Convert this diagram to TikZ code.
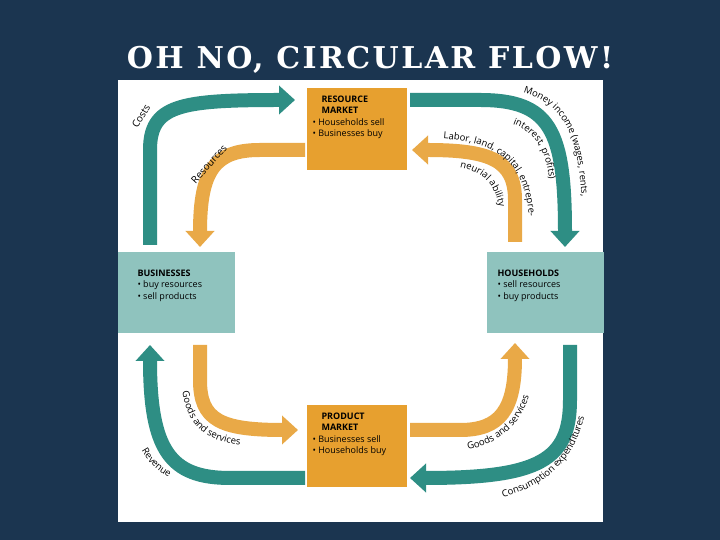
\documentclass[tikz,border=0pt]{standalone}
\usepackage{fontspec}
\setsansfont{Open Sans}
\setmainfont{DejaVu Serif}
\usetikzlibrary{arrows.meta,decorations.text}
\definecolor{bg}{HTML}{1B3550}
\definecolor{teal}{HTML}{2E8E84}
\definecolor{org}{HTML}{E9A947}
\definecolor{boxorg}{HTML}{E7A02F}
\definecolor{boxteal}{HTML}{8FC3BE}
\tikzset{
  band/.style={line width=14pt,-{Triangle[width=28pt,length=16pt]}},
  tband/.style={band,draw=teal},
  oband/.style={band,draw=org},
  mbox/.style={fill=boxorg,minimum width=100pt,minimum height=82pt,anchor=north west,inner sep=0pt},
  abox/.style={fill=boxteal,minimum width=117pt,minimum height=81pt,anchor=north west,inner sep=0pt},
  lbl/.style={font=\sffamily\fontsize{9}{11.5}\selectfont},
  along/.style={decorate,decoration={text along path,text align=center,text={|\sffamily\fontsize{9.5}{10}\selectfont|#1}}}
}
\begin{document}
\begin{tikzpicture}[x=1pt,y=1pt]
\fill[bg] (0,0) rectangle (720,540);
\useasboundingbox (0,0) rectangle (720,540);
\node[text=white,font=\bfseries\fontsize{30}{34}\selectfont\addfontfeature{LetterSpace=8},inner sep=0pt] (title) at (370,480) {OH NO, CIRCULAR FLOW!};
\fill[white] (118,18) rectangle (603,460);
\node[mbox] (rm) at (307,452) {};
\node[abox] (bus) at (118,288) {};
\node[abox] (hh) at (487,288) {};
\node[mbox] (pm) at (307,135) {};
\node[lbl,align=left,anchor=north west] (rmt) at (309,448) {\hspace*{9pt}\textbf{RESOURCE}\\\hspace*{9pt}\textbf{MARKET}\\• Households sell\\• Businesses buy};
\node[lbl,align=left,anchor=north west] (pmt) at (309,131) {\hspace*{9pt}\textbf{PRODUCT}\\\hspace*{9pt}\textbf{MARKET}\\• Businesses sell\\• Households buy};
\node[lbl,align=left,anchor=north west] (bust) at (134,274) {\textbf{BUSINESSES}\\• buy resources\\• sell products};
\node[lbl,align=left,anchor=north west] (hht) at (494,274) {\textbf{HOUSEHOLDS}\\• sell resources\\• buy products};
% arrows
\draw[tband] (150,295) -- (150,390) .. controls (150,435) and (180,440) .. (295,440);
\draw[oband] (305,390) -- (260,390) .. controls (215,390) and (200,370) .. (200,293);
\draw[tband] (410,440) -- (480,440) .. controls (550,440) and (565,410) .. (565,293);
\draw[oband] (515,298) -- (515,340) .. controls (515,380) and (490,390) .. (412,390);
\draw[oband] (200,195) -- (200,160) .. controls (200,120) and (220,110) .. (298,110);
\draw[tband] (305,62) -- (230,62) .. controls (170,62) and (150,90) .. (150,195);
\draw[oband] (410,110) -- (460,110) .. controls (500,110) and (515,130) .. (515,197);
\draw[tband] (570,195) -- (570,140) .. controls (570,80) and (540,62) .. (410,62);
% labels
\node[rotate=58,font=\sffamily\fontsize{10}{10}\selectfont] (costs) at (141,424) {Costs};
\node[rotate=48,font=\sffamily\fontsize{10}{10}\selectfont] (res) at (209,376) {Resources};
\path[along={Money income (wages, rents,}] (470,453) .. controls (566,453) and (583,420) .. (583,290);
\path[along={interest, profits)}] (485,421) .. controls (532,418) and (551,397) .. (551,332);
\path[along={Labor, land, capital, entrepre-}] (420,402) .. controls (503,402) and (530,378) .. (530,300);
\path[along={neurial ability}] (445,375) .. controls (482,372) and (500,356) .. (500,318);
\path[along={Goods and services}] (181,170) .. controls (181,108) and (210,94) .. (262,94);
\path[along={Revenue}] (135,106) .. controls (142,80) and (160,63) .. (186,57);
\path[along={Goods and services}] (444,87) .. controls (502,90) and (530,120) .. (533,168);
\path[along={Consumption expenditures}] (474,38) .. controls (542,44) and (585,80) .. (588,152);
\end{tikzpicture}
\end{document}
